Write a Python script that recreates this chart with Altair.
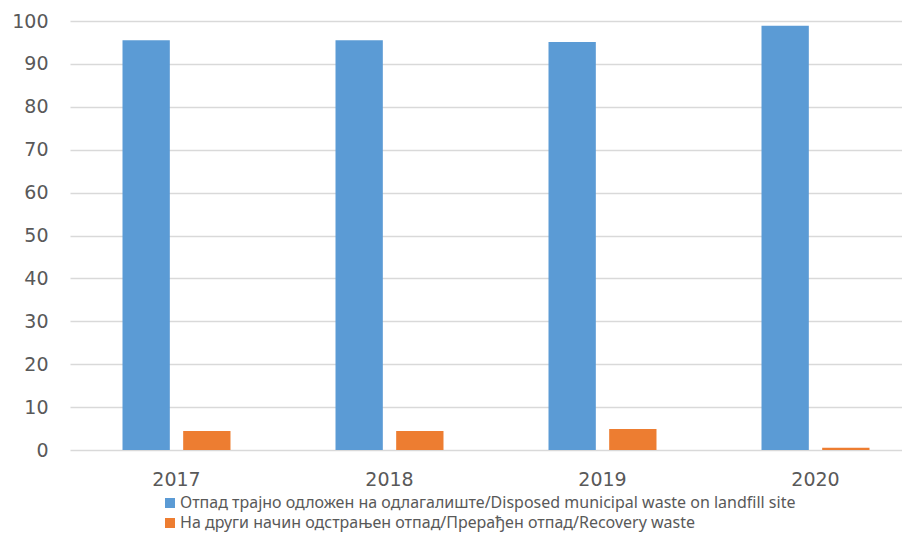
import altair as alt
import pandas as pd

years = ["2017", "2018", "2019", "2020"]
series = [
    "Отпад трајно одложен на одлагалиште/Disposed municipal waste on landfill site",
    "На други начин одстрањен отпад/Прерађен отпад/Recovery waste",
]
disposed = [95.5, 95.5, 95.1, 98.9]
recovery = [4.4, 4.4, 4.9, 0.5]
colors = ["#5B9BD5", "#ED7D31"]

rows = []
for i, y in enumerate(years):
    rows.append({"year": y, "series": series[0], "value": disposed[i]})
    rows.append({"year": y, "series": series[1], "value": recovery[i]})
df = pd.DataFrame(rows)

chart = (
    alt.Chart(df)
    .mark_bar()
    .encode(
        x=alt.X(
            "year:N",
            sort=years,
            title=None,
            scale=alt.Scale(range=[0, 852], paddingInner=0.493, paddingOuter=0.2465),
            axis=alt.Axis(
                labelAngle=0,
                labelFontSize=19,
                labelFont="DejaVu Sans",
                labelColor="#595959",
                labelPadding=20,
                ticks=False,
                domain=False,
                grid=False,
            ),
        ),
        xOffset=alt.XOffset(
            "series:N",
            sort=series,
            scale=alt.Scale(paddingInner=0.22, paddingOuter=0),
        ),
        y=alt.Y(
            "value:Q",
            title=None,
            scale=alt.Scale(domain=[0, 100], nice=False),
            axis=alt.Axis(
                values=list(range(0, 101, 10)),
                labelFontSize=19,
                labelFont="DejaVu Sans",
                labelColor="#595959",
                labelPadding=22,
                ticks=False,
                domain=False,
                gridColor="#D9D9D9",
                gridWidth=1.5,
            ),
        ),
        color=alt.Color(
            "series:N",
            sort=series,
            scale=alt.Scale(domain=series, range=colors),
            legend=alt.Legend(
                title=None,
                orient="none",
                legendX=92,
                legendY=474,
                direction="vertical",
                symbolType="square",
                symbolSize=100,
                symbolStrokeWidth=0,
                labelFont="Noto Sans",
                labelFontSize=16,
                labelColor="#595959",
                labelLimit=900,
                rowPadding=4,
                padding=0,
                symbolOffset=0,
                labelOffset=2,
            ),
        ),
    )
    .properties(
        width=832,
        height=429,
        autosize=alt.AutoSizeParams(type="none"),
        padding={"left": 62, "top": 13, "right": 0, "bottom": 86},
    )
    .configure_view(stroke=None)
)

chart.save("out.html", embed_options={"renderer": "svg", "actions": False})
